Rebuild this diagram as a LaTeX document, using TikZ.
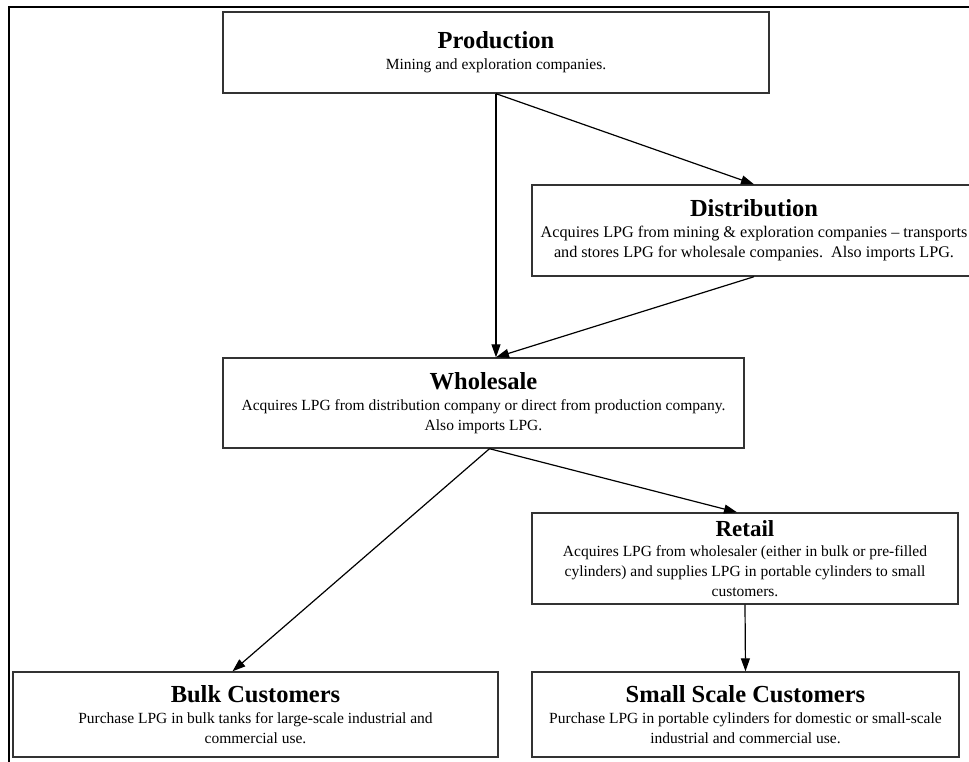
\documentclass[tikz,border=0pt]{standalone}
\usepackage{fontspec}
\setmainfont{Liberation Serif}
\usetikzlibrary{arrows.meta,calc}
\tikzset{
  box/.style={draw=black!80, line width=1.4pt, inner sep=0pt, align=center, font=\fontsize{15.5}{20}\selectfont},
  conn/.style={draw=black, line width=1.2pt, -{Triangle[length=13pt,width=9pt]}},
  frame/.style={draw=black, line width=2.4pt}
}
\newcommand{\ttl}[1]{{\fontsize{24.5}{26}\selectfont\bfseries #1}}
\begin{document}
\begin{tikzpicture}[x=1pt,y=-1pt]
\useasboundingbox (0,0) rectangle (969,761);
\begin{scope}
\clip (0,0) rectangle (969,761);
\draw[frame] (9,7) rectangle (1000,800);
\node[box, minimum width=546pt, minimum height=81pt] (prod) at (496,52.5)
  {\ttl{Production}\\[1pt] Mining and exploration companies.};
\node[box, minimum width=444pt, minimum height=91pt, font=\fontsize{16.2}{20}\selectfont] (dist) at (754,230.5)
  {\ttl{Distribution}\\[1pt] Acquires LPG from mining \& exploration companies -- transports\\ and stores LPG for wholesale companies.\ \ Also imports LPG.};
\node[box, minimum width=521pt, minimum height=90pt] (whole) at (483.5,403)
  {\ttl{Wholesale}\\[1pt] Acquires LPG from distribution company or direct from production company.\\ Also imports LPG.};
\node[box, minimum width=426pt, minimum height=91pt] (retail) at (745,558.5)
  {{\fontsize{23}{22}\selectfont\bfseries Retail}\\ Acquires LPG from wholesaler (either in bulk or pre-filled\\ cylinders) and supplies LPG in portable cylinders to small\\ customers.};
\node[box, minimum width=485pt, minimum height=85pt] (bulk) at (255.5,714.5)
  {\ttl{Bulk Customers}\\[1pt] Purchase LPG in bulk tanks for large-scale industrial and\\ commercial use.};
\node[box, minimum width=427pt, minimum height=85pt] (small) at (745.5,714.5)
  {\ttl{Small Scale Customers}\\[1pt] Purchase LPG in portable cylinders for domestic or small-scale\\ industrial and commercial use.};
\end{scope}
\coordinate (wtop) at (prod.south |- whole.north);
\coordinate (wbot) at ($(whole.south)+(6,0)$);
\coordinate (rtop) at ($(retail.north)+(-8,0)$);
\coordinate (btop) at ($(bulk.north)+(-23,0)$);
\draw[conn] (prod.south) -- (wtop);
\draw[conn] (prod.south) -- (dist.north);
\draw[conn] (dist.south) -- (wtop);
\draw[conn] (wbot) -- (rtop);
\draw[conn] (wbot) -- (btop);
\draw[conn] (retail.south) -- (small.north);
\end{tikzpicture}
\end{document}
